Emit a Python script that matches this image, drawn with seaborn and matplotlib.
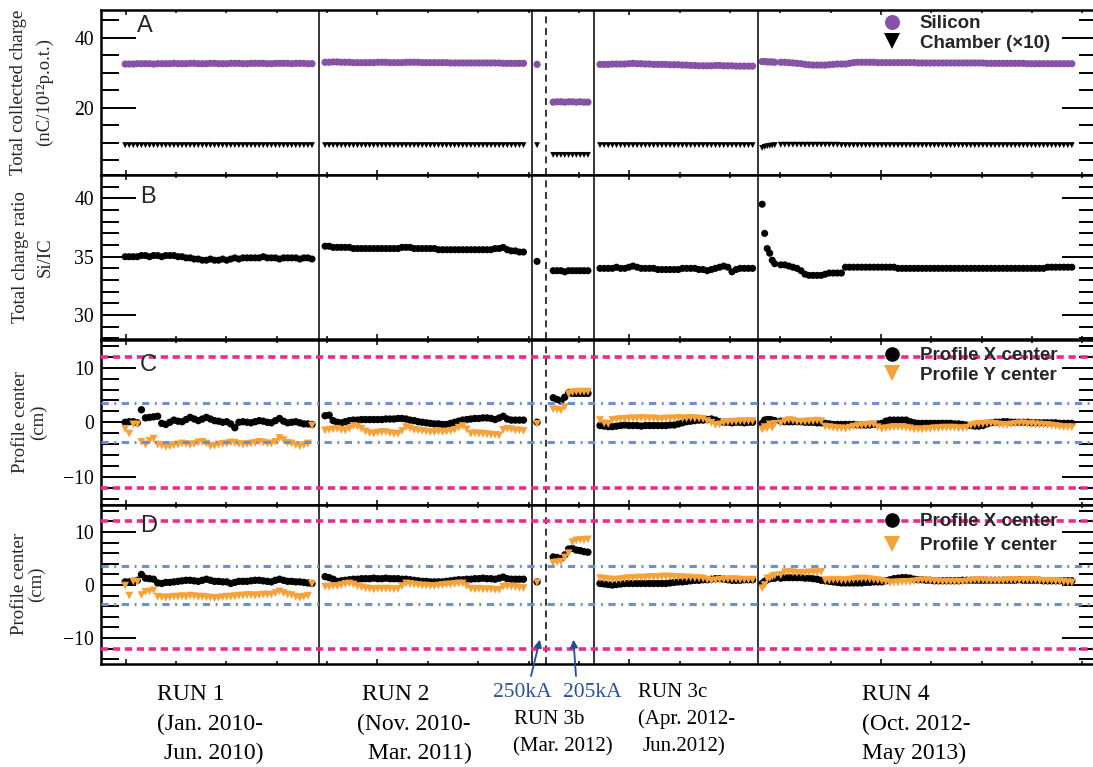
import numpy as np
import pandas as pd
import matplotlib
matplotlib.use("Agg")
import matplotlib.pyplot as plt
from matplotlib.lines import Line2D
from matplotlib.ticker import MultipleLocator
from matplotlib.font_manager import FontProperties
import seaborn as sns

# ---------------------------------------------------------------- data
# Time span of each data-taking segment (arbitrary time axis units)
SEGMENTS = ["RUN 1", "RUN 2", "RUN 3b 250kA", "RUN 3b 205kA", "RUN 3c", "RUN 4 start", "RUN 4"]
SEG_T0 = [-0.01, 3.96, 8.17, 8.49, 9.42, 12.64, 13.01]
SEG_T1 = [3.70, 7.90, 8.17, 9.18, 12.45, 12.89, 18.79]

# Boundaries between runs and the horn-current change inside RUN 3b
RUN_BOUNDARIES = [3.844, 8.062, 9.299, 12.55]
CURRENT_CHANGE = 8.346

# Fiducial limits drawn on the profile-center panels (cm)
OUTER_LIMIT = 12.0
INNER_LIMIT = 3.6

# Panel A: silicon total charge (nC/1e12 p.o.t.)
SILICON_RUN1 = [32.5, 32.5, 32.5, 32.6, 32.6, 32.6, 32.6, 32.5, 32.6, 32.6,
                32.6, 32.6, 32.7, 32.6, 32.6, 32.6, 32.7, 32.7, 32.6, 32.6,
                32.6, 32.7, 32.7, 32.6, 32.6, 32.6, 32.7, 32.7, 32.7, 32.6,
                32.6, 32.7, 32.7, 32.7, 32.7, 32.6, 32.6, 32.7, 32.7, 32.7,
                32.7, 32.6, 32.7, 32.7, 32.7, 32.6, 32.6]
SILICON_RUN2 = [33.0, 33.0, 33.1, 33.1, 33.0, 33.0, 33.0, 32.9, 32.9, 32.9,
                32.9, 32.9, 32.9, 33.0, 33.0, 33.0, 32.9, 32.9, 32.9, 32.9,
                33.0, 33.0, 33.0, 33.0, 32.9, 32.9, 32.9, 32.9, 32.9, 32.9,
                32.9, 32.8, 32.8, 32.8, 32.8, 32.8, 32.8, 32.8, 32.8, 32.8,
                32.8, 32.8, 32.8, 32.8, 32.7, 32.7, 32.7, 32.7, 32.7, 32.7]
SILICON_RUN3B_250 = [32.4]
SILICON_RUN3B_205 = [21.6, 21.7, 21.7, 21.6, 21.7, 21.7, 21.6, 21.7, 21.6, 21.6]
SILICON_RUN3C = [32.4, 32.4, 32.4, 32.5, 32.5, 32.5, 32.5, 32.6, 32.7, 32.6,
                 32.6, 32.5, 32.5, 32.4, 32.4, 32.4, 32.4, 32.3, 32.3, 32.3,
                 32.2, 32.2, 32.1, 32.1, 32.0, 32.0, 32.0, 32.0, 32.1, 32.1,
                 32.0, 32.0, 32.0, 31.9, 31.9, 31.9, 31.9, 31.9]
SILICON_RUN4_START = [33.2, 33.2, 33.1, 33.1, 33.1, 33.0]
SILICON_RUN4 = [33.0, 33.0, 32.9, 32.8, 32.7, 32.6, 32.4, 32.3, 32.2, 32.2,
                32.2, 32.2, 32.3, 32.4, 32.5, 32.5, 32.5, 32.7, 32.9, 33.0,
                33.0, 33.0, 33.0, 33.0, 32.9, 32.9, 32.9, 32.9, 32.9, 32.9,
                32.9, 32.9, 32.9, 32.9, 32.8, 32.8, 32.8, 32.8, 32.8, 32.8,
                32.8, 32.8, 32.8, 32.8, 32.8, 32.8, 32.8, 32.8, 32.8, 32.8,
                32.8, 32.7, 32.7, 32.7, 32.7, 32.7, 32.7, 32.7, 32.7, 32.7,
                32.7, 32.6, 32.6, 32.6, 32.6, 32.6, 32.6, 32.6, 32.6, 32.6,
                32.6, 32.6, 32.6]

# Panel A: ionisation chamber total charge, scaled by 10
CHAMBER_RUN1 = [9.3, 9.3, 9.3, 9.3, 9.3, 9.3, 9.3, 9.3, 9.3, 9.3,
                9.3, 9.3, 9.3, 9.3, 9.3, 9.3, 9.3, 9.3, 9.3, 9.3,
                9.3, 9.3, 9.3, 9.3, 9.3, 9.3, 9.3, 9.3, 9.3, 9.3,
                9.3, 9.3, 9.3, 9.3, 9.3, 9.3, 9.3, 9.3, 9.3, 9.3,
                9.3, 9.3, 9.3, 9.3, 9.3, 9.3, 9.3]
CHAMBER_RUN2 = [9.3, 9.3, 9.3, 9.3, 9.3, 9.3, 9.3, 9.3, 9.3, 9.3,
                9.3, 9.3, 9.3, 9.3, 9.3, 9.3, 9.3, 9.3, 9.3, 9.3,
                9.3, 9.3, 9.3, 9.3, 9.3, 9.3, 9.3, 9.3, 9.3, 9.3,
                9.3, 9.3, 9.3, 9.3, 9.3, 9.3, 9.3, 9.3, 9.3, 9.3,
                9.3, 9.3, 9.3, 9.3, 9.3, 9.3, 9.3, 9.3, 9.3, 9.3]
CHAMBER_RUN3B_250 = [9.3]
CHAMBER_RUN3B_205 = [6.5, 6.5, 6.5, 6.5, 6.5, 6.5, 6.5, 6.5, 6.5, 6.5]
CHAMBER_RUN3C = [9.3, 9.3, 9.3, 9.3, 9.3, 9.3, 9.3, 9.3, 9.3, 9.3,
                 9.3, 9.3, 9.3, 9.3, 9.3, 9.3, 9.3, 9.3, 9.3, 9.3,
                 9.3, 9.3, 9.3, 9.3, 9.3, 9.3, 9.3, 9.3, 9.3, 9.3,
                 9.3, 9.3, 9.3, 9.3, 9.3, 9.3, 9.3, 9.3]
CHAMBER_RUN4_START = [8.5, 8.8, 9.0, 9.1, 9.2, 9.3]
CHAMBER_RUN4 = [9.4, 9.4, 9.4, 9.4, 9.4, 9.4, 9.4, 9.4, 9.4, 9.4,
                9.4, 9.4, 9.4, 9.4, 9.4, 9.3, 9.3, 9.3, 9.3, 9.3,
                9.3, 9.3, 9.3, 9.3, 9.3, 9.3, 9.3, 9.3, 9.3, 9.3,
                9.3, 9.3, 9.3, 9.3, 9.3, 9.3, 9.3, 9.3, 9.3, 9.3,
                9.3, 9.3, 9.3, 9.3, 9.3, 9.3, 9.3, 9.3, 9.3, 9.3,
                9.3, 9.3, 9.3, 9.3, 9.3, 9.3, 9.3, 9.3, 9.3, 9.3,
                9.3, 9.3, 9.3, 9.3, 9.3, 9.3, 9.3, 9.3, 9.3, 9.3,
                9.3, 9.3, 9.3]

# Panel B: silicon / chamber charge ratio
RATIO_RUN1 = [35.0, 35.0, 35.0, 35.0, 35.1, 35.1, 35.0, 35.1, 35.1, 35.0,
              35.1, 35.1, 35.1, 35.0, 35.0, 34.9, 34.9, 34.8, 34.8, 34.7,
              34.7, 34.8, 34.7, 34.7, 34.8, 34.7, 34.8, 34.9, 34.8, 34.9,
              34.9, 34.9, 34.9, 34.9, 35.0, 34.9, 34.9, 34.9, 34.8, 34.9,
              34.9, 34.9, 34.9, 34.8, 34.9, 34.9, 34.8]
RATIO_RUN2 = [35.9, 35.9, 35.8, 35.8, 35.8, 35.8, 35.8, 35.7, 35.7, 35.7,
              35.7, 35.7, 35.7, 35.7, 35.7, 35.7, 35.7, 35.7, 35.7, 35.8,
              35.8, 35.8, 35.7, 35.7, 35.7, 35.7, 35.7, 35.7, 35.6, 35.6,
              35.6, 35.6, 35.6, 35.6, 35.6, 35.6, 35.6, 35.6, 35.6, 35.6,
              35.6, 35.6, 35.7, 35.7, 35.8, 35.6, 35.5, 35.5, 35.4, 35.4]
RATIO_RUN3B_250 = [34.6]
RATIO_RUN3B_205 = [33.8, 33.8, 33.8, 33.7, 33.8, 33.8, 33.8, 33.8, 33.8, 33.8]
RATIO_RUN3C = [34.0, 34.0, 34.0, 34.0, 34.1, 34.0, 34.0, 34.1, 34.2, 34.1,
               34.0, 34.0, 34.0, 34.0, 33.9, 33.9, 33.9, 33.9, 33.9, 33.9,
               34.0, 34.0, 34.0, 34.0, 33.9, 33.9, 33.8, 33.9, 34.0, 34.1,
               34.2, 34.1, 33.7, 33.9, 34.0, 34.0, 34.0, 34.0]
RATIO_RUN4_START = [39.5, 37.0, 35.7, 35.3, 34.7, 34.4]
RATIO_RUN4 = [34.3, 34.3, 34.2, 34.1, 34.0, 33.8, 33.5, 33.4, 33.4, 33.4,
              33.4, 33.5, 33.6, 33.6, 33.6, 33.6, 34.1, 34.1, 34.1, 34.1,
              34.1, 34.1, 34.1, 34.1, 34.1, 34.1, 34.1, 34.1, 34.1, 34.0,
              34.0, 34.0, 34.0, 34.0, 34.0, 34.0, 34.0, 34.0, 34.0, 34.0,
              34.0, 34.0, 34.0, 34.0, 34.0, 34.0, 34.0, 34.0, 34.0, 34.0,
              34.0, 34.0, 34.0, 34.0, 34.0, 34.0, 34.0, 34.0, 34.0, 34.0,
              34.0, 34.0, 34.0, 34.0, 34.0, 34.0, 34.1, 34.1, 34.1, 34.1,
              34.1, 34.1, 34.1]

# Panel C: beam profile centers (cm)
C_XCENTER_RUN1 = [0.0, 0.1, 0.1, -0.1, 2.3, 0.8, 0.9, 1.0, 1.1, -0.2,
                  -0.4, 0.0, 0.4, 0.2, 0.1, 0.5, 0.9, 0.6, 0.3, 0.6,
                  0.9, 0.6, 0.3, 0.2, 0.0, 0.1, -0.3, -1.0, 0.0, 0.1,
                  0.0, -0.1, 0.1, 0.3, 0.2, 0.0, -0.1, 0.3, 0.7, 0.2,
                  -0.1, 0.0, 0.1, -0.1, -0.3, -0.3, -0.4]
C_XCENTER_RUN2 = [1.2, 1.3, 0.3, 0.0, -0.1, 0.1, 0.3, 0.4, 0.4, 0.5,
                  0.5, 0.5, 0.5, 0.5, 0.5, 0.6, 0.6, 0.6, 0.7, 0.7,
                  0.6, 0.4, 0.3, 0.1, 0.0, -0.1, -0.2, -0.3, -0.3, -0.4,
                  -0.4, -0.2, 0.0, 0.2, 0.4, 0.5, 0.6, 0.7, 0.7, 0.8,
                  0.8, 0.7, 0.5, 0.8, 1.1, 0.6, 0.4, 0.4, 0.4, 0.4]
C_XCENTER_RUN3B_250 = [0.0]
C_XCENTER_RUN3B_205 = [4.5, 4.2, 3.9, 4.6, 5.4, 5.3, 5.3, 5.3, 5.3, 5.3]
C_XCENTER_RUN3C = [-0.6, -0.7, -0.8, -0.8, -0.7, -0.6, -0.5, -0.6, -0.6, -0.6,
                   -0.7, -0.6, -0.6, -0.6, -0.6, -0.6, -0.6, -0.5, -0.5, -0.3,
                   -0.1, 0.1, 0.2, 0.3, 0.4, 0.4, 0.5, 0.6, 0.4, 0.1,
                   0.0, 0.0, -0.1, 0.0, 0.0, -0.1, 0.0, 0.0]
C_XCENTER_RUN4_START = [-0.2, 0.4, 0.5, 0.5, 0.4, 0.3]
C_XCENTER_RUN4 = [0.2, 0.1, 0.1, 0.1, 0.1, 0.1, 0.0, 0.0, 0.0, -0.1,
                  -0.1, -0.2, -0.3, -0.4, -0.4, -0.4, -0.4, -0.4, -0.4, -0.5,
                  -0.5, -0.5, -0.5, -0.4, -0.3, -0.2, 0.2, 0.4, 0.4, 0.4,
                  0.4, 0.4, 0.1, -0.1, -0.2, -0.2, -0.2, -0.2, -0.2, -0.2,
                  -0.2, -0.2, -0.2, -0.3, -0.3, -0.4, -0.5, -0.6, -0.7, -0.7,
                  -0.6, -0.3, -0.1, 0.0, 0.0, 0.1, 0.1, 0.0, 0.0, 0.0,
                  0.0, 0.0, -0.1, -0.1, -0.1, -0.1, -0.1, -0.1, -0.1, -0.2,
                  -0.2, -0.2, -0.2]

C_YCENTER_RUN1 = [-1.2, -2.1, -0.4, -0.4, -3.6, -4.1, -3.4, -3.0, -4.1, -4.3,
                  -4.5, -4.4, -4.2, -4.1, -3.9, -4.0, -4.2, -4.0, -3.7, -3.6,
                  -3.9, -4.4, -4.3, -4.1, -4.0, -3.9, -3.7, -3.8, -4.0, -4.1,
                  -4.0, -3.9, -3.8, -3.6, -3.7, -3.9, -3.9, -3.6, -2.9, -3.3,
                  -3.8, -3.9, -4.2, -4.4, -4.2, -3.9, -0.6]
C_YCENTER_RUN2 = [-1.5, -1.4, -1.3, -1.2, -1.4, -1.5, -1.2, -0.7, -0.8, -1.2,
                  -1.7, -2.0, -2.1, -1.9, -1.8, -1.8, -2.0, -2.1, -2.1, -1.6,
                  -0.9, -1.1, -1.4, -1.5, -1.6, -1.7, -1.8, -1.8, -1.7, -1.8,
                  -1.7, -1.6, -1.4, -1.0, -0.7, -1.3, -2.1, -2.0, -2.1, -2.1,
                  -2.2, -2.3, -2.3, -2.4, -1.4, -1.2, -1.3, -1.5, -1.5, -1.6]
C_YCENTER_RUN3B_250 = [-0.3]
C_YCENTER_RUN3B_205 = [2.4, 2.3, 2.2, 2.8, 5.2, 5.5, 5.6, 5.6, 5.6, 5.6]
C_YCENTER_RUN3C = [0.4, -0.2, -0.3, 0.4, 0.5, 0.6, 0.6, 0.7, 0.7, 0.7,
                   0.8, 0.7, 0.7, 0.7, 0.6, 0.6, 0.7, 0.7, 0.7, 0.8,
                   0.7, 0.7, 0.8, 0.7, 0.7, 0.6, 0.2, -0.1, -0.5, -0.4,
                   -0.1, 0.0, 0.1, 0.1, 0.2, 0.2, 0.2, 0.2]
C_YCENTER_RUN4_START = [-1.3, -0.9, -1.1, -0.4, -1.0, -0.3]
C_YCENTER_RUN4 = [-0.2, 0.2, 0.4, 0.3, 0.1, 0.1, 0.1, 0.2, 0.2, 0.3,
                  0.2, -0.8, -0.9, -1.0, -1.1, -1.1, -1.2, -1.0, -0.8, -0.7,
                  -0.6, -0.5, -0.4, -0.4, -0.9, -1.2, -1.1, -1.0, -0.9, -0.9,
                  -0.9, -1.0, -1.1, -1.3, -1.3, -1.3, -1.2, -1.2, -1.1, -1.1,
                  -1.0, -1.0, -1.0, -1.0, -1.1, -1.1, -1.0, -0.6, -0.4, -0.3,
                  -0.3, -0.2, -0.2, -0.3, -0.4, -0.5, -0.5, -0.4, -0.3, -0.2,
                  -0.2, -0.3, -0.3, -0.4, -0.4, -0.5, -0.5, -0.6, -0.7, -0.8,
                  -0.9, -0.9, -0.9]

# Panel D: beam profile centers (cm)
D_XCENTER_RUN1 = [0.6, 0.6, 0.7, 0.9, 2.0, 1.3, 1.2, 1.1, 0.4, 0.3,
                  0.5, 0.5, 0.6, 0.7, 0.8, 0.9, 0.9, 0.8, 0.7, 0.9,
                  1.1, 0.9, 0.7, 0.7, 0.6, 0.6, 0.3, 0.5, 0.7, 0.7,
                  0.7, 0.8, 0.9, 0.9, 0.8, 0.7, 0.6, 0.9, 1.1, 0.9,
                  0.7, 0.7, 0.6, 0.6, 0.5, 0.4, 0.3]
D_XCENTER_RUN2 = [1.6, 1.4, 1.1, 0.7, 0.8, 0.9, 1.0, 1.1, 1.1, 1.2,
                  1.2, 1.2, 1.3, 1.2, 1.2, 1.3, 1.2, 1.2, 1.2, 1.1,
                  1.1, 1.0, 0.9, 0.8, 0.7, 0.7, 0.6, 0.6, 0.6, 0.6,
                  0.7, 0.8, 0.9, 1.0, 1.0, 1.1, 1.1, 1.2, 1.2, 1.3,
                  1.2, 1.2, 1.1, 1.3, 1.5, 1.2, 1.1, 1.1, 1.1, 1.1]
D_XCENTER_RUN3B_250 = [0.6]
D_XCENTER_RUN3B_205 = [5.3, 5.2, 5.0, 5.7, 6.8, 6.9, 6.6, 6.5, 6.3, 6.2]
D_XCENTER_RUN3C = [0.3, 0.2, 0.1, 0.0, 0.1, 0.2, 0.3, 0.3, 0.3, 0.3,
                   0.3, 0.3, 0.3, 0.3, 0.3, 0.3, 0.3, 0.4, 0.5, 0.6,
                   0.6, 0.7, 0.8, 0.9, 0.9, 1.0, 1.0, 1.1, 1.2, 1.2,
                   1.1, 1.0, 0.9, 0.9, 0.9, 1.0, 1.0, 1.0]
D_XCENTER_RUN4_START = [0.3, 0.7, 1.0, 1.2, 1.3, 1.3]
D_XCENTER_RUN4 = [1.3, 1.4, 1.4, 1.4, 1.4, 1.4, 1.3, 1.3, 1.2, 1.1,
                  0.9, 0.8, 0.7, 0.6, 0.5, 0.4, 0.4, 0.4, 0.4, 0.4,
                  0.4, 0.5, 0.5, 0.6, 0.6, 0.6, 0.8, 1.0, 1.2, 1.3,
                  1.4, 1.4, 1.3, 1.1, 1.0, 1.0, 0.9, 0.9, 0.8, 0.8,
                  0.8, 0.8, 0.8, 0.8, 0.8, 0.9, 0.9, 0.9, 0.9, 0.9,
                  0.9, 0.9, 0.9, 0.9, 0.9, 0.9, 0.9, 0.9, 0.9, 1.0,
                  0.9, 0.9, 0.9, 0.9, 0.9, 0.8, 0.8, 0.8, 0.8, 0.8,
                  0.8, 0.8, 0.8]

D_YCENTER_RUN1 = [-0.1, -2.0, 0.7, 0.6, -1.9, -1.3, -1.2, -1.0, -2.2, -2.3,
                  -2.4, -2.3, -2.2, -2.2, -2.1, -2.2, -2.0, -2.1, -2.2, -2.2,
                  -2.3, -2.4, -2.5, -2.4, -2.3, -2.2, -2.2, -2.1, -2.0, -2.0,
                  -1.9, -1.9, -2.0, -1.9, -1.8, -1.8, -1.8, -1.5, -1.2, -1.5,
                  -1.8, -1.9, -2.2, -2.4, -2.2, -2.0, 0.2]
D_YCENTER_RUN2 = [-0.3, -0.3, -0.2, -0.2, 0.0, 0.2, 0.3, 0.1, -0.2, -0.4,
                  -0.6, -0.7, -0.8, -0.7, -0.7, -0.7, -0.7, -0.8, -0.7, -0.2,
                  0.3, 0.2, 0.1, 0.0, -0.1, -0.1, -0.2, -0.2, -0.1, 0.0,
                  0.1, 0.1, 0.2, 0.3, 0.3, -0.2, -0.7, -0.8, -0.7, -0.8,
                  -0.8, -0.8, -0.9, -0.9, -0.3, -0.2, -0.3, -0.4, -0.5, -0.6]
D_YCENTER_RUN3B_250 = [0.5]
D_YCENTER_RUN3B_205 = [4.2, 4.3, 4.4, 5.2, 6.0, 8.1, 8.4, 8.5, 8.5, 8.6]
D_YCENTER_RUN3C = [1.3, 1.2, 1.1, 1.0, 1.0, 1.1, 1.2, 1.3, 1.3, 1.4,
                   1.4, 1.4, 1.5, 1.5, 1.5, 1.6, 1.6, 1.6, 1.5, 1.5,
                   1.5, 1.4, 1.4, 1.3, 1.3, 1.2, 1.0, 0.8, 0.9, 1.0,
                   1.0, 1.1, 1.1, 1.1, 1.0, 1.0, 1.0, 1.0]
D_YCENTER_RUN4_START = [-0.6, 0.0, 1.2, 1.3, 1.6, 1.8]
D_YCENTER_RUN4 = [1.9, 2.4, 2.5, 2.4, 2.3, 2.3, 2.3, 2.4, 2.4, 2.4,
                  2.5, 0.9, 0.9, 1.0, 1.0, 0.9, 0.9, 1.0, 1.1, 1.2,
                  1.2, 1.2, 1.1, 1.0, 0.9, 0.8, 0.6, 0.4, 0.5, 0.5,
                  0.6, 0.6, 0.6, 0.7, 0.8, 0.9, 0.9, 0.8, 0.7, 0.7,
                  0.6, 0.6, 0.6, 0.6, 0.6, 0.6, 0.7, 0.8, 0.9, 0.9,
                  0.9, 0.8, 0.8, 0.8, 0.8, 0.8, 0.9, 0.9, 0.9, 0.9,
                  0.9, 0.9, 0.9, 0.9, 0.8, 0.8, 0.8, 0.8, 0.7, 0.7,
                  0.6, 0.5, 0.5]

SILICON = [SILICON_RUN1, SILICON_RUN2, SILICON_RUN3B_250, SILICON_RUN3B_205, SILICON_RUN3C,
           SILICON_RUN4_START, SILICON_RUN4]
CHAMBER = [CHAMBER_RUN1, CHAMBER_RUN2, CHAMBER_RUN3B_250, CHAMBER_RUN3B_205, CHAMBER_RUN3C,
           CHAMBER_RUN4_START, CHAMBER_RUN4]
RATIO = [RATIO_RUN1, RATIO_RUN2, RATIO_RUN3B_250, RATIO_RUN3B_205, RATIO_RUN3C,
         RATIO_RUN4_START, RATIO_RUN4]
C_XCENTER = [C_XCENTER_RUN1, C_XCENTER_RUN2, C_XCENTER_RUN3B_250, C_XCENTER_RUN3B_205, C_XCENTER_RUN3C,
             C_XCENTER_RUN4_START, C_XCENTER_RUN4]
C_YCENTER = [C_YCENTER_RUN1, C_YCENTER_RUN2, C_YCENTER_RUN3B_250, C_YCENTER_RUN3B_205, C_YCENTER_RUN3C,
             C_YCENTER_RUN4_START, C_YCENTER_RUN4]
D_XCENTER = [D_XCENTER_RUN1, D_XCENTER_RUN2, D_XCENTER_RUN3B_250, D_XCENTER_RUN3B_205, D_XCENTER_RUN3C,
             D_XCENTER_RUN4_START, D_XCENTER_RUN4]
D_YCENTER = [D_YCENTER_RUN1, D_YCENTER_RUN2, D_YCENTER_RUN3B_250, D_YCENTER_RUN3B_205, D_YCENTER_RUN3C,
             D_YCENTER_RUN4_START, D_YCENTER_RUN4]

# ---------------------------------------------------------------- style
PURPLE = "#8652a6"
ORANGE = "#f6a23a"
PINK = "#ec2a8e"
BLUE = "#6e8fd0"
ARROW_BLUE = "#1f4e9c"
TEXT_BLUE = "#2a52a0"

sns.set_style("ticks")
plt.rcParams["font.family"] = ["Liberation Serif", "DejaVu Serif"]
plt.rcParams["lines.scale_dashes"] = False
plt.rcParams["axes.unicode_minus"] = True

SANS = "Liberation Sans"
W, H = 1093, 767
fig = plt.figure(figsize=(W / 100, H / 100), dpi=100)

X_LEFT, X_RIGHT = 101, 1097
PANEL_EDGES = [9.5, 174.5, 339.5, 504.5, 663.5]
T_MIN, T_MAX = -0.49, 19.29


def fx(px):
    return px / W


def fy(py):
    return 1 - py / H


def panel_frame(entries):
    frames = []
    for name, chunks in entries:
        for t0, t1, vals in zip(SEG_T0, SEG_T1, chunks):
            frames.append(pd.DataFrame({"t": np.linspace(t0, t1, len(vals)),
                                        "value": vals, "series": name}))
    return pd.concat(frames, ignore_index=True)


panels = [
    dict(entries=[("Silicon", SILICON), ("Chamber (×10)", CHAMBER)],
         palette={"Silicon": PURPLE, "Chamber (×10)": "black"},
         markers={"Silicon": "o", "Chamber (×10)": "v"},
         sizes={"Silicon": 27, "Chamber (×10)": 18},
         ylim=(0.9, 48.1), major=20, minor=5, letter="A",
         ylabel=("Total collected charge", "(nC/10¹²p.o.t.)"), label_x=(19, 44)),
    dict(entries=[("Ratio", RATIO)],
         palette={"Ratio": "black"}, markers={"Ratio": "o"}, sizes={"Ratio": 26},
         ylim=(27.9, 42.05), major=5, minor=1, letter="B",
         ylabel=("Total charge ratio", "Si/IC"), label_x=(21, 45)),
    dict(entries=[("Profile X center", C_XCENTER), ("Profile Y center", C_YCENTER)],
         palette={"Profile X center": "black", "Profile Y center": ORANGE},
         markers={"Profile X center": "o", "Profile Y center": "v"},
         sizes={"Profile X center": 28, "Profile Y center": 32},
         ylim=(-15.1, 15.2), major=10, minor=2, letter="C",
         ylabel=("Profile center", "(cm)"), label_x=(21, 38)),
    dict(entries=[("Profile X center", D_XCENTER), ("Profile Y center", D_YCENTER)],
         palette={"Profile X center": "black", "Profile Y center": ORANGE},
         markers={"Profile X center": "o", "Profile Y center": "v"},
         sizes={"Profile X center": 28, "Profile Y center": 32},
         ylim=(-14.8, 15.2), major=10, minor=2, letter="D",
         ylabel=("Profile center", "(cm)"), label_x=(20, 36)),
]

letter_baselines = [31.5, 203, 370.5, 532.5]
axes = []
for i, spec in enumerate(panels):
    top, bot = PANEL_EDGES[i], PANEL_EDGES[i + 1]
    ax = fig.add_axes([fx(X_LEFT), fy(bot), fx(X_RIGHT - X_LEFT), (bot - top) / H])
    axes.append(ax)
    df = panel_frame(spec["entries"])
    sns.scatterplot(data=df, x="t", y="value", hue="series", style="series", size="series",
                    palette=spec["palette"], markers=spec["markers"], sizes=spec["sizes"],
                    linewidth=0, legend=False, ax=ax, zorder=2)
    ax.set_xlim(T_MIN, T_MAX)
    ax.set_ylim(*spec["ylim"])
    ax.set_xlabel("")
    ax.set_ylabel("")
    ax.xaxis.set_major_locator(MultipleLocator(5))
    ax.xaxis.set_minor_locator(MultipleLocator(1))
    ax.yaxis.set_major_locator(MultipleLocator(spec["major"]))
    ax.yaxis.set_minor_locator(MultipleLocator(spec["minor"]))
    ax.tick_params(which="both", direction="in", top=True, bottom=True, left=True, right=True,
                   labelbottom=False, labeltop=False, labelright=False, colors="black")
    ax.tick_params(axis="y", which="major", length=25, width=1.4, pad=5, labelsize=14.2)
    ax.tick_params(axis="y", which="minor", length=13, width=1.4)
    ax.tick_params(axis="x", which="major", length=3.8, width=1.1)
    ax.tick_params(axis="x", which="minor", length=2.2, width=1.1)
    for s in ax.spines.values():
        s.set_linewidth(1.8)
        s.set_color("black")
    for t in RUN_BOUNDARIES:
        ax.axvline(t, color="black", lw=1.1, zorder=3)
    ax.axvline(CURRENT_CHANGE, color="black", lw=1.1, dashes=(5, 3.4), zorder=3)

    fig.text(fx(137 if i == 0 else 140), fy(letter_baselines[i]), spec["letter"],
             family=SANS, size=17, ha="left", va="baseline")
    mid = (top + bot) / 2
    fig.text(fx(spec["label_x"][0]), fy(mid), spec["ylabel"][0], rotation=90,
             ha="center", va="center", size=13.5)
    fig.text(fx(spec["label_x"][1]), fy(mid), spec["ylabel"][1], rotation=90,
             ha="center", va="center", size=13.5)

# fiducial limit lines on the profile panels
for ax in axes[2:]:
    for sign in (1, -1):
        ax.axhline(sign * OUTER_LIMIT, color=PINK, lw=2.6, dashes=(5.2, 3.4), zorder=3)
        ax.axhline(sign * INNER_LIMIT, color=BLUE, lw=2.2, dashes=(5.2, 4.0, 1.4, 4.0), zorder=3)

# legends
legend_font = FontProperties(family=SANS, weight="bold", size=13.5)


def add_legend(ax, handles, labels, top_px, spacing):
    ax.legend(handles, labels, loc="upper left", bbox_to_anchor=(fx(880.5), fy(top_px)),
              bbox_transform=fig.transFigure, frameon=False, borderpad=0, borderaxespad=0,
              handlelength=1.2, handletextpad=0.9, labelspacing=spacing, prop=legend_font)


add_legend(axes[0],
           [Line2D([], [], ls="none", marker="o", color=PURPLE, markersize=10.8, markeredgewidth=0),
            Line2D([], [], ls="none", marker="v", color="black", markersize=11.5, markeredgewidth=0)],
           ["Silicon", "Chamber (×10)"], 15, 0.12)
for ax, top_px, spacing in ((axes[2], 347, 0.12), (axes[3], 513, 0.37)):
    add_legend(ax,
               [Line2D([], [], ls="none", marker="o", color="black", markersize=10.5, markeredgewidth=0),
                Line2D([], [], ls="none", marker="v", color=ORANGE, markersize=11.5, markeredgewidth=0)],
               ["Profile X center", "Profile Y center"], top_px, spacing)

# arrows marking the two horn-current settings of RUN 3b
for tip_t, tail_px in ((8.227, (531, H - 676)), (8.892, (576, H - 676))):
    axes[3].annotate("", xy=(tip_t, -10.3), xycoords="data", xytext=tail_px,
                     textcoords="figure pixels", annotation_clip=False,
                     arrowprops=dict(arrowstyle="-|>", color=ARROW_BLUE, lw=1.3,
                                     mutation_scale=11, shrinkA=0, shrinkB=0))

# run captions under the panels
captions = [
    ("RUN 1", 157, 700, 17, "black"), ("(Jan. 2010-", 157, 730, 17, "black"), ("Jun. 2010)", 164, 759, 17, "black"),
    ("RUN 2", 362, 700, 17, "black"), ("(Nov. 2010-", 357, 730, 17, "black"), ("Mar. 2011)", 368, 759, 17, "black"),
    ("250kA", 493, 697, 15.5, TEXT_BLUE), ("205kA", 563, 697, 15.5, TEXT_BLUE),
    ("RUN 3b", 514, 724, 15, "black"), ("(Mar. 2012)", 513, 751, 15, "black"),
    ("RUN 3c", 638, 697, 15, "black"), ("(Apr. 2012-", 638, 724, 15, "black"), ("Jun.2012)", 643, 751, 15, "black"),
    ("RUN 4", 862, 700, 17, "black"), ("(Oct. 2012-", 862, 730, 17, "black"), ("May 2013)", 862, 759, 17, "black"),
]
for text, x, y, size, color in captions:
    fig.text(fx(x), fy(y), text, ha="left", va="baseline", size=size, color=color)

fig.savefig("out.png", dpi=100)
